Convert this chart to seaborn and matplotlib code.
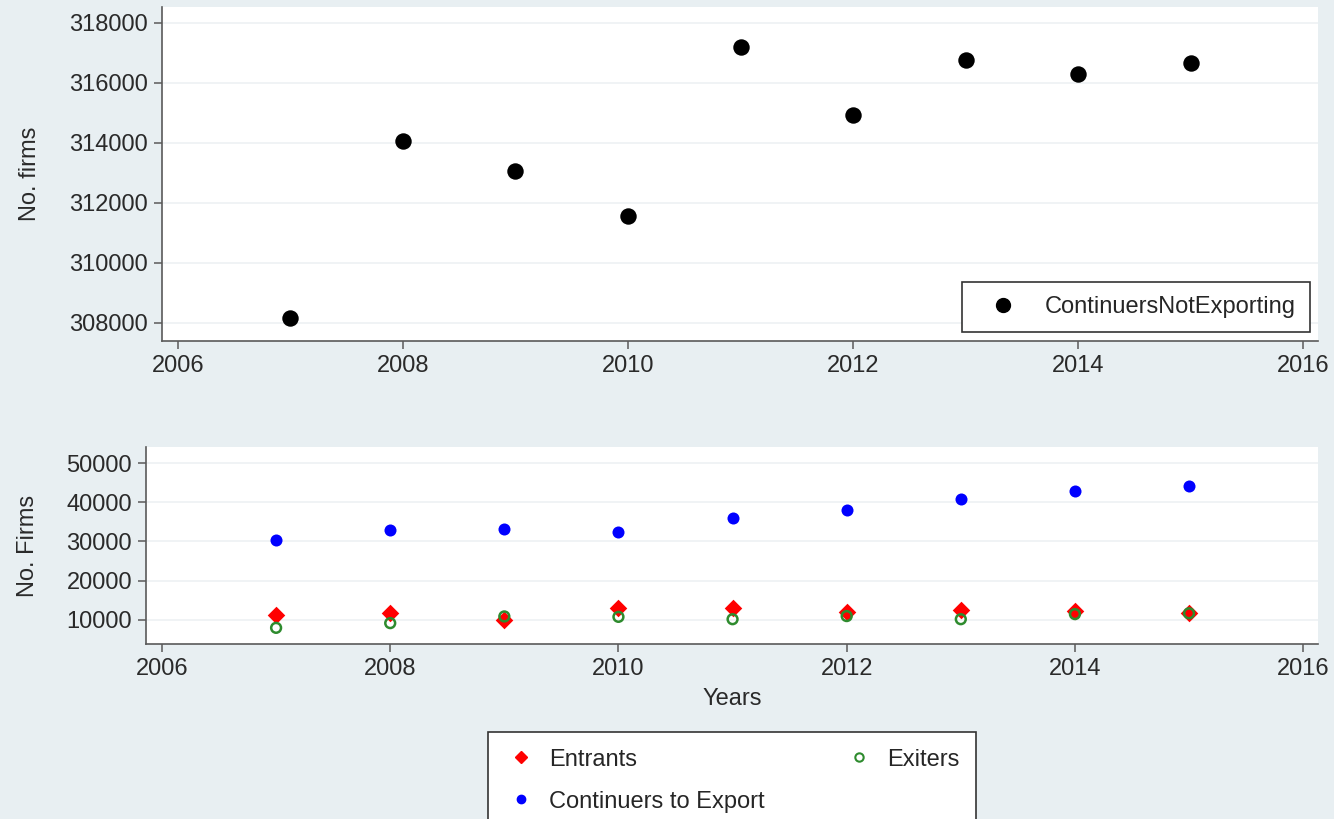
import numpy as np
import pandas as pd
import matplotlib
matplotlib.use("Agg")
import matplotlib.pyplot as plt
import seaborn as sns
from matplotlib.lines import Line2D

years = [2007, 2008, 2009, 2010, 2011, 2012, 2013, 2014, 2015]
not_exporting = [308170, 314070, 313050, 311550, 317200, 314930, 316770, 316300, 316670]
entrants = [11300, 11800, 10100, 13000, 13000, 12000, 12500, 12300, 11800]
exiters = [8000, 9200, 10900, 10800, 10200, 11000, 10200, 11500, 11700]
continuers_export = [30400, 32900, 33150, 32400, 36000, 38000, 40800, 42800, 44100]

x_ticks = [2006, 2008, 2010, 2012, 2014, 2016]
top_yticks = [308000, 310000, 312000, 314000, 316000, 318000]
bot_yticks = [10000, 20000, 30000, 40000, 50000]

df = pd.DataFrame({"year": years, "not_exp": not_exporting, "entrants": entrants,
                   "exiters": exiters, "cont_exp": continuers_export})

sns.set_theme(style="white")
plt.rcParams['font.family'] = ['Liberation Sans', 'DejaVu Sans']
bg = "#e8eff2"
fs = 17

fig = plt.figure(figsize=(13.34, 8.19), dpi=100, facecolor=bg)
ax1 = fig.add_axes([162 / 1334, 1 - 341 / 819, (1318 - 162) / 1334, (341 - 7) / 819])
ax2 = fig.add_axes([146 / 1334, 1 - 644 / 819, (1318 - 146) / 1334, (644 - 447) / 819])


def style(ax, yticks):
    ax.set_facecolor("white")
    ax.set_xlim(2005.86, 2016.13)
    ax.set_xticks(x_ticks)
    ax.set_yticks(yticks)
    ax.set_yticklabels([str(v) for v in yticks])
    ax.grid(axis="y", color="#edf1f3", lw=1.2)
    ax.grid(axis="x", visible=False)
    for s in ["top", "right"]:
        ax.spines[s].set_visible(False)
    for s in ["left", "bottom"]:
        ax.spines[s].set_color("#5a5a5a")
        ax.spines[s].set_linewidth(1.2)
    ax.tick_params(axis="both", direction="out", length=6, width=1.1,
                   color="#5a5a5a", labelsize=fs, labelcolor="#2a2a2a",
                   left=True, bottom=True, pad=4)
    ax.set_axisbelow(True)


# top panel
sns.scatterplot(data=df, x="year", y="not_exp", ax=ax1, color="black", s=140,
                edgecolor="black", linewidth=0, legend=False)
style(ax1, top_yticks)
ax1.set_ylim(307400, 318530)
ax1.set_xlabel("")
ax1.set_ylabel("No. firms", fontsize=fs, color="#2a2a2a", labelpad=20)
h1 = [Line2D([], [], ls="", marker="o", color="black", markersize=10)]
leg1 = ax1.legend(h1, ["ContinuersNotExporting"], loc="lower right",
                  bbox_to_anchor=(0.993, 0.027), borderaxespad=0, fontsize=fs,
                  frameon=True, fancybox=False, edgecolor="#333333", framealpha=1,
                  handletextpad=0.6, borderpad=0.6, handlelength=2.3)
leg1.get_frame().set_linewidth(1.2)

# bottom panel
sns.scatterplot(data=df, x="year", y="entrants", ax=ax2, color="#ff0000", marker="D",
                s=80, linewidth=0, legend=False)
sns.scatterplot(data=df, x="year", y="exiters", ax=ax2, marker="o", s=50,
                facecolors="none", edgecolor="#2e8b2e", linewidth=1.8, legend=False)
sns.scatterplot(data=df, x="year", y="cont_exp", ax=ax2, color="#0000ff", s=75,
                linewidth=0, legend=False)
style(ax2, bot_yticks)
ax2.set_ylim(3880, 54080)
ax2.set_xlabel("Years", fontsize=fs, color="#2a2a2a", labelpad=6)
ax2.set_ylabel("No. Firms", fontsize=fs, color="#2a2a2a", labelpad=20)

h2 = [Line2D([], [], ls="", marker="D", color="#ff0000", markersize=6),
      Line2D([], [], ls="", marker="o", color="#0000ff", markersize=6),
      Line2D([], [], ls="", marker="o", markerfacecolor="none",
             markeredgecolor="#2e8b2e", markeredgewidth=1.5, markersize=6)]
leg2 = fig.legend(h2, ["Entrants", "Continuers to Export", "Exiters"], ncol=2,
                  loc="upper center", bbox_to_anchor=(732 / 1334, 1 - 732 / 819),
                  borderaxespad=0, fontsize=fs, frameon=True, fancybox=False,
                  edgecolor="#333333", framealpha=1, columnspacing=3.3,
                  handletextpad=0.5, borderpad=0.7, labelspacing=0.85,
                  handlelength=1.4)
leg2.get_frame().set_linewidth(1.2)

fig.savefig("out.png", dpi=100, facecolor=bg)
